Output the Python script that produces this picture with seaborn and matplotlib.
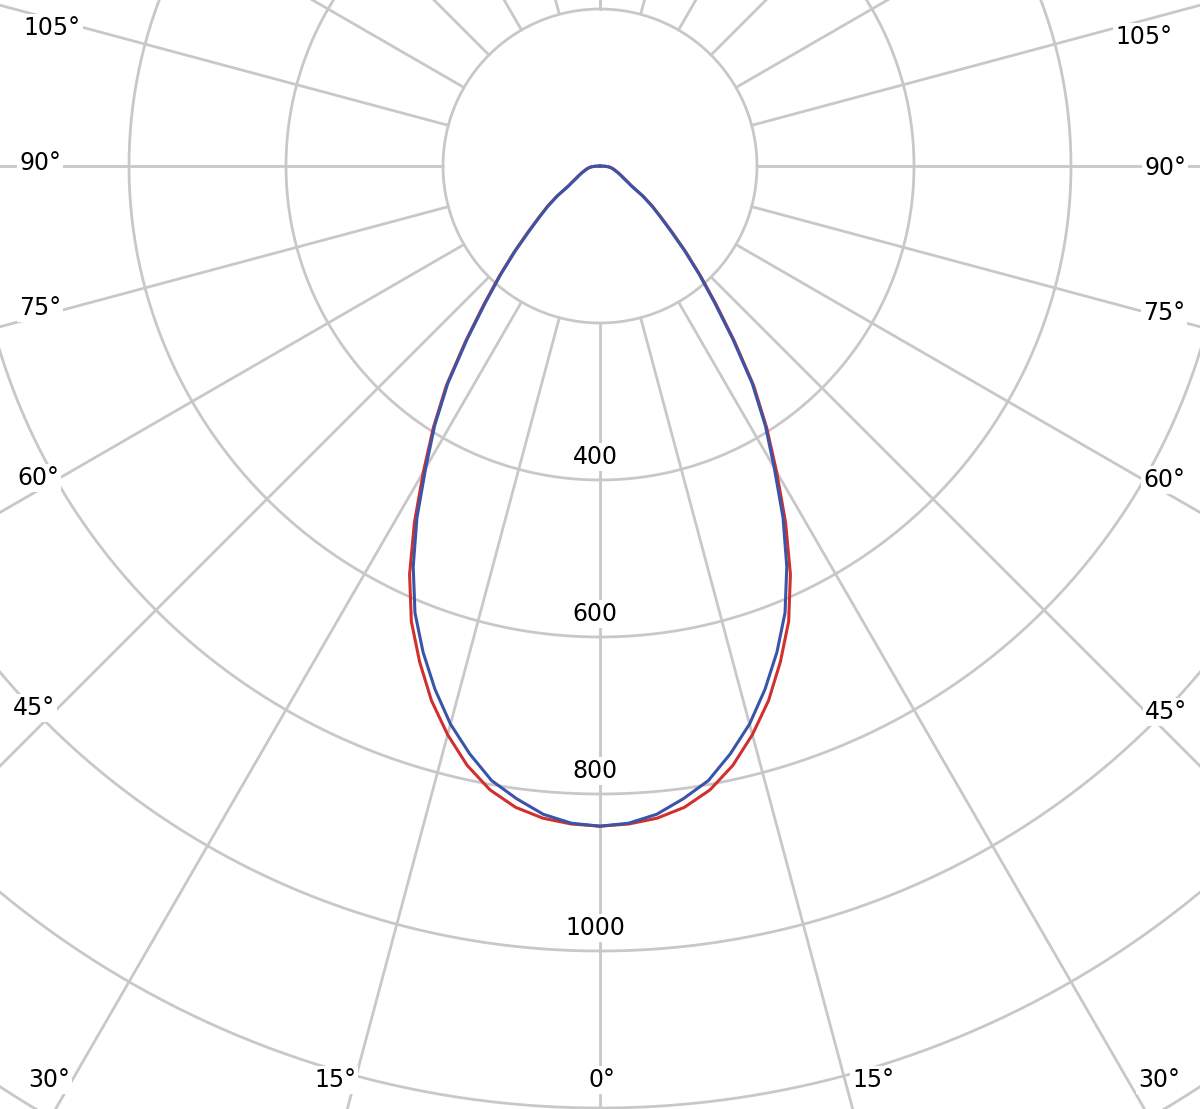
import numpy as np
import pandas as pd
import matplotlib
matplotlib.use('Agg')
import matplotlib.pyplot as plt
import seaborn as sns

# Lichtstaerkeverteilung (cd), 0..90 Grad in 2,5-Grad-Schritten
angles = [0, 2.5, 5, 7.5, 10, 12.5, 15, 17.5, 20, 22.5, 25, 27.5, 30, 32.5, 35, 37.5,
          40, 42.5, 45, 47.5, 50, 52.5, 55, 57.5, 60, 62.5, 65, 67.5, 70, 72.5, 75,
          77.5, 80, 82.5, 85, 87.5, 90]
c0_c180 = [841, 839, 834, 824, 807, 782, 750, 714, 672, 628, 574, 512, 450, 395, 341, 281,
           230, 189, 154, 124, 101, 84, 67, 49, 41, 35, 31, 27, 24, 21, 19,
           17, 15, 13, 10, 6, 0]
c90_c270 = [841, 838, 829, 813, 795, 767, 736, 699, 659, 616, 563, 505, 444, 392, 338, 278,
            227, 187, 152, 122, 100, 83, 66, 48, 40, 34, 30, 27, 24, 21, 19,
            17, 15, 13, 10, 6, 0]

ring_values = [200, 400, 600, 800, 1000, 1200, 1400, 1600]
ring_labels = ['400', '600', '800', '1000']
spoke_angles = list(range(-180, 181, 15))

# Winkelbeschriftungen und ihre Position in Pixeln
angle_labels = ['105°', '90°', '75°', '60°', '45°',
                '30°', '15°', '0°', '15°', '30°',
                '45°', '60°', '75°', '90°', '105°']
label_px = [(52, 28), (40, 163), (40, 308), (38, 478), (34, 708),
            (49, 1080), (335, 1080), (602, 1080), (873, 1080), (1159, 1080),
            (1166, 712), (1164, 480), (1164, 313), (1165, 168), (1144, 37)]

W, H = 1200, 1109
cx, cy = 600, 166
scale = 157 / 200.0  # px pro cd


def px2data(px, py):
    return (px - cx) / scale, (cy - py) / scale


# Kurven: -90..90 durchgehend (links und rechts symmetrisch)
rows = []
for name, vals in [('C0-C180', c0_c180), ('C90-C270', c90_c270)]:
    a = np.array(angles[::-1] + angles[1:], dtype=float)
    a[:len(angles)] *= -1
    r = np.array(vals[::-1] + vals[1:], dtype=float)
    t = np.radians(a)
    for i in range(len(a)):
        rows.append({'plane': name, 'x': r[i] * np.sin(t[i]), 'y': -r[i] * np.cos(t[i])})
df = pd.DataFrame(rows)

sns.set_style('white')
plt.rcParams['font.family'] = ['DejaVu Sans']

fig = plt.figure(figsize=(W / 100, H / 100), dpi=100)
ax = fig.add_axes([0, 0, 1, 1])

grid_col = '#c8c8c8'
grid_lw = 2.0

# Kreise
phi = np.linspace(0, 2 * np.pi, 720)
for rv in ring_values:
    ax.plot(rv * np.cos(phi), rv * np.sin(phi), color=grid_col, lw=grid_lw, zorder=1)

# Speichen ab 200 cd
for sa in spoke_angles:
    t = np.radians(sa)
    ax.plot([200 * np.sin(t), 2500 * np.sin(t)], [-200 * np.cos(t), -2500 * np.cos(t)],
            color=grid_col, lw=grid_lw, zorder=1)

sns.lineplot(data=df, x='x', y='y', hue='plane', sort=False, estimator=None,
             palette={'C0-C180': '#d22f2f', 'C90-C270': '#3a55a8'},
             linewidth=2.2, legend=False, ax=ax, zorder=3)

box = dict(facecolor='white', edgecolor='none', pad=1.5)
for lab in ring_labels:
    ax.text(-5 / scale, -float(lab) + 23 / scale, lab, ha='center', va='center',
            fontsize=17, color='black', bbox=box, zorder=2)

for lab, (px, py) in zip(angle_labels, label_px):
    x, y = px2data(px, py)
    ax.text(x, y, lab, ha='center', va='center', fontsize=17, color='black',
            bbox=box, zorder=2)

ax.set_xlim(px2data(0, 0)[0], px2data(W, 0)[0])
ax.set_ylim(px2data(0, H)[1], px2data(0, 0)[1])
ax.axis('off')

fig.savefig('out.png', dpi=100, facecolor='white')
plt.close(fig)
